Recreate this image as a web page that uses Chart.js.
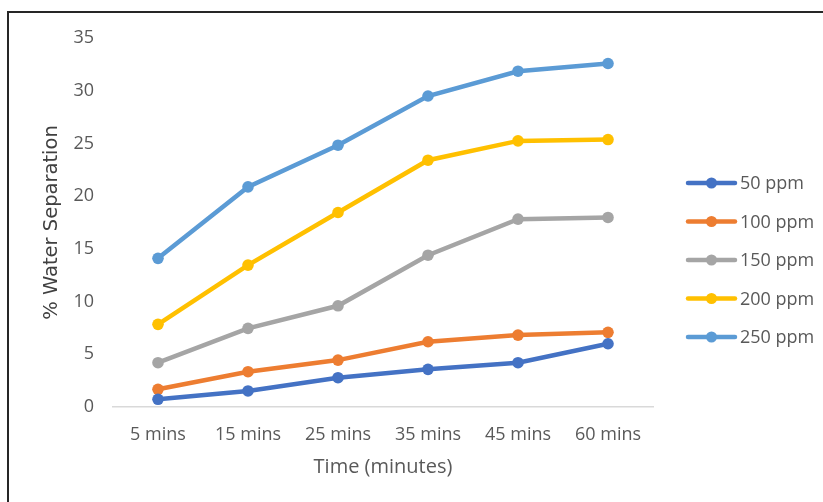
<!DOCTYPE html>
<html>
<head>
<meta charset="utf-8">
<script src="https://cdn.jsdelivr.net/npm/chart.js@4/dist/chart.umd.min.js"></script>
<style>
  html, body { margin: 0; padding: 0; background: #fff; overflow: hidden; }
  #frame { position: absolute; left: 7px; top: 11px; width: 900px; height: 600px; border: 2px solid #262626; box-sizing: border-box; }
  #wrap { position: absolute; left: 0; top: 0; width: 823px; height: 502px; }
</style>
</head>
<body>
<div id="frame"></div>
<div id="wrap"><canvas id="c" width="823" height="502"></canvas></div>
<script>
// Sampling times
const times = ['5 mins', '15 mins', '25 mins', '35 mins', '45 mins', '60 mins'];

// % water separation per demulsifier dose
const ppm50  = [0.73, 1.52, 2.78, 3.57, 4.20, 6.00];
const ppm100 = [1.68, 3.35, 4.45, 6.19, 6.82, 7.08];
const ppm150 = [4.20, 7.46, 9.60, 14.40, 17.82, 17.98];
const ppm200 = [7.84, 13.46, 18.45, 23.41, 25.24, 25.37];
const ppm250 = [14.10, 20.88, 24.83, 29.50, 31.85, 32.58];

const seriesNames = ['50 ppm', '100 ppm', '150 ppm', '200 ppm', '250 ppm'];
const seriesData = [ppm50, ppm100, ppm150, ppm200, ppm250];
const seriesColors = ['#4472C4', '#ED7D31', '#A5A5A5', '#FFC000', '#5B9BD5'];

const yTicks = [0, 5, 10, 15, 20, 25, 30, 35];

const FONT = "'Open Sans', sans-serif";
const TEXT = '#595959';

// Legend on the right: line sample with a marker, then the label
const sideLegend = {
  id: 'sideLegend',
  afterDraw(chart) {
    const ctx = chart.ctx;
    const x0 = 688, x1 = 735, textX = 740;
    const yStart = 183, step = 38.5;
    ctx.save();
    chart.data.datasets.forEach((ds, i) => {
      const y = yStart + i * step;
      ctx.strokeStyle = ds.borderColor;
      ctx.lineWidth = 4.5;
      ctx.lineCap = 'round';
      ctx.beginPath();
      ctx.moveTo(x0, y);
      ctx.lineTo(x1, y);
      ctx.stroke();
      ctx.fillStyle = ds.borderColor;
      ctx.beginPath();
      ctx.arc((x0 + x1) / 2, y, 5.5, 0, Math.PI * 2);
      ctx.fill();
      ctx.fillStyle = TEXT;
      ctx.font = '18px ' + FONT;
      ctx.textAlign = 'left';
      ctx.textBaseline = 'middle';
      ctx.fillText(ds.label, textX, y + 1);
    });
    ctx.restore();
  }
};

new Chart(document.getElementById('c'), {
  type: 'line',
  data: {
    labels: times,
    datasets: seriesNames.map((name, i) => ({
      label: name,
      data: seriesData[i],
      borderColor: seriesColors[i],
      backgroundColor: seriesColors[i],
      borderWidth: 4.5,
      pointRadius: 5.8,
      pointHoverRadius: 5.8,
      pointBorderWidth: 0,
      tension: 0,
      fill: false
    }))
  },
  options: {
    responsive: false,
    animation: false,
    devicePixelRatio: 1,
    layout: { padding: { top: 38, right: 170, bottom: 0, left: 0 } },
    plugins: {
      legend: { display: false },
      tooltip: { enabled: false }
    },
    scales: {
      x: {
        offset: true,
        grid: { display: false, drawTicks: false },
        border: { display: true, color: '#D9D9D9', width: 1.5 },
        ticks: { color: TEXT, font: { family: FONT, size: 18 }, padding: 17, maxRotation: 0 },
        title: {
          display: true, text: 'Time (minutes)', color: TEXT,
          font: { family: FONT, size: 20 }, padding: { top: 0, bottom: 23 }
        },
        afterFit(scale) { scale.height = 95; }
      },
      y: {
        min: 0, max: 35,
        afterBuildTicks(scale) { scale.ticks = yTicks.map(v => ({ value: v })); },
        grid: { display: false, drawTicks: false },
        border: { display: false },
        ticks: { color: TEXT, font: { family: FONT, size: 18 }, padding: 19 },
        title: {
          display: true, text: '% Water Separation', color: '#404040',
          font: { family: "'DejaVu Sans', sans-serif", size: 19.5 }, padding: { top: 40, bottom: 0 }
        },
        afterFit(scale) { scale.width = 113; }
      }
    }
  },
  plugins: [sideLegend]
});
</script>
</body>
</html>
